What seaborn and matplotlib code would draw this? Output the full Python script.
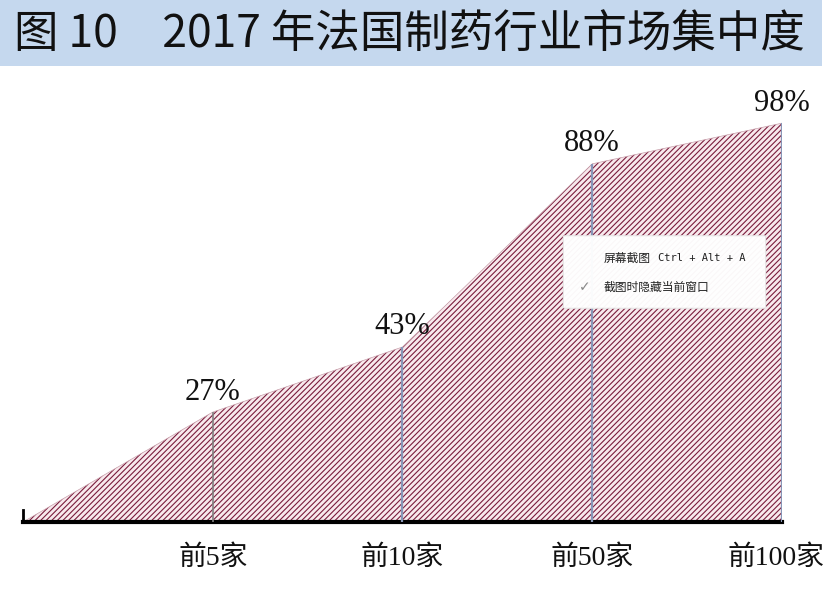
import matplotlib
matplotlib.use("Agg")
import matplotlib.pyplot as plt
import matplotlib.transforms as mtransforms
import seaborn as sns
import pandas as pd
from matplotlib.patches import Rectangle, FancyBboxPatch

# ---- data ----
categories = ["", "前5家", "前10家", "前50家", "前100家"]
values = [0, 27, 43, 88, 98]
value_labels = ["", "27%", "43%", "88%", "98%"]
title = "图 10　2017 年法国制药行业市场集中度"
popup_line1_cn = "屏幕截图"
popup_line1_key = "Ctrl + Alt + A"
popup_line2 = "截图时隐藏当前窗口"

df = pd.DataFrame({"pos": list(range(len(categories))), "share": values, "cat": categories})

sns.set_theme(style="white")
plt.rcParams["font.family"] = ["Liberation Serif", "Noto Sans CJK SC", "DejaVu Sans"]
plt.rcParams["hatch.linewidth"] = 0.8
plt.rcParams["hatch.color"] = "#7a1c3c"

W, H = 828, 613
fig = plt.figure(figsize=(W / 100, H / 100), dpi=100)
fig.patch.set_facecolor("white")

# title band
fig.patches.append(Rectangle((0, 1 - 66 / H), 822 / W, 66 / H, transform=fig.transFigure,
                             facecolor="#c5d8ee", edgecolor="none", zorder=0))
fig.text(14 / W, 1 - 34 / H, title, fontsize=32, va="center", ha="left",
         family=["Noto Sans CJK SC", "DejaVu Sans"], color="#111111")

# axes: baseline at y=522 px, x from 23 to 782 px, ~4.07 px per %
ax = fig.add_axes([23 / W, (H - 522) / H, (782 - 23) / W, 407 / H])
ax.set_xlim(0, len(categories) - 1)
ax.set_ylim(0, 100)
ax.set_facecolor("none")

ax.fill_between(df["pos"], 0, df["share"], facecolor="#f8e9ed", edgecolor="#7a1c3c",
                hatch="//////", linewidth=0, zorder=1)
sns.lineplot(data=df, x="pos", y="share", ax=ax, color="#c9a0ac", linewidth=0.5, zorder=2)

line_colors = ["#808080", "#8796b8", "#8796b8", "#8796b8"]
line_widths = [1.2, 1.6, 1.6, 1.6]
for p, v, c, lw in zip(df["pos"][1:], df["share"][1:], line_colors, line_widths):
    ax.vlines(p, 0, v, colors=c, linewidth=lw, zorder=3)

for p, v, lab in zip(df["pos"][1:], df["share"][1:], value_labels[1:]):
    ax.annotate(lab, (p, v), xytext=(0, 4), textcoords="offset points",
                ha="center", va="bottom", fontsize=22, color="#111111",
                family=["Liberation Serif"])

ax.set_xticks(df["pos"][1:])
ax.set_xticklabels(categories[1:], fontsize=20, color="#111111")
ax.tick_params(axis="x", length=0, pad=17)
# nudge the last label slightly left so it stays inside the figure
last = ax.get_xticklabels()[-1]
last.set_transform(last.get_transform() +
                   mtransforms.ScaledTranslation(-6 / 100, 0, fig.dpi_scale_trans))
ax.set_yticks([])
ax.set_xlabel("")
ax.set_ylabel("")
for s in ["top", "right"]:
    ax.spines[s].set_visible(False)
ax.spines["bottom"].set_linewidth(3)
ax.spines["bottom"].set_color("black")
ax.spines["left"].set_linewidth(2)
ax.spines["left"].set_color("black")
ax.spines["left"].set_bounds(0, 3)

# screenshot-tool popup seen in the reference
fig.patches.append(FancyBboxPatch((565 / W, 1 - 307 / H), 199 / W, 70 / H,
                                  boxstyle="round,pad=0.002", transform=fig.transFigure,
                                  facecolor="white", edgecolor="#e6e6e6", linewidth=0.8,
                                  zorder=5, alpha=0.97))
fig.text(604 / W, 1 - 258 / H, popup_line1_cn, fontsize=8.5, va="center", ha="left",
         family=["Noto Sans CJK SC"], color="#222222", zorder=6)
fig.text(658 / W, 1 - 258 / H, popup_line1_key, fontsize=7.5, va="center", ha="left",
         family=["DejaVu Sans Mono"], color="#222222", zorder=6)
fig.text(579 / W, 1 - 287 / H, "✓", fontsize=10, va="center", ha="left",
         family=["DejaVu Sans"], color="#888888", zorder=6)
fig.text(604 / W, 1 - 287 / H, popup_line2, fontsize=8.5, va="center", ha="left",
         family=["Noto Sans CJK SC"], color="#222222", zorder=6)

fig.savefig("out.png", dpi=100)
